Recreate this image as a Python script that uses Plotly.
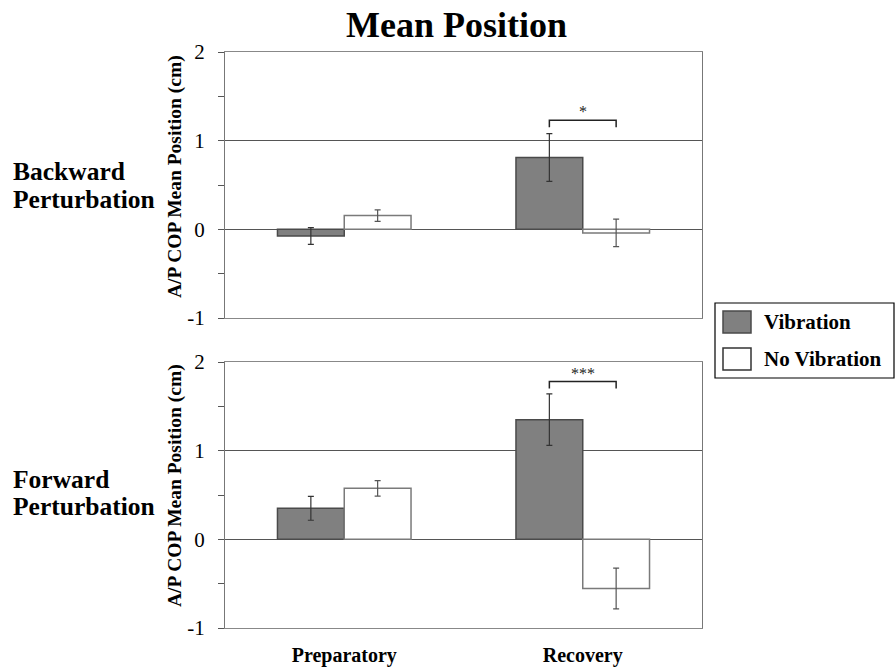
import plotly.graph_objects as go

# ---------------- data ----------------
phases = ["Preparatory", "Recovery"]
conditions = ["Vibration", "No Vibration"]
panel_labels = [["Backward", "Perturbation"], ["Forward", "Perturbation"]]

back_vib = [-0.075, 0.81]
back_vib_err = [0.095, 0.27]
back_novib = [0.155, -0.04]
back_novib_err = [0.065, 0.155]

fwd_vib = [0.35, 1.35]
fwd_vib_err = [0.135, 0.29]
fwd_novib = [0.575, -0.555]
fwd_novib_err = [0.087, 0.23]

sig_phase_index = [1, 1]
sig_labels = ["*", "***"]
bracket_y = [1.23, 1.78]

y_ticks = [-1, 0, 1, 2]
y_tick_text = ["-1", "0", "1", "2"]

# ---------------- styling ----------------
W, H = 895, 669
SERIF = "Liberation Serif, Times New Roman, serif"
VIB_FILL, VIB_LINE = "#808080", "#4a4a4a"
NOV_FILL, NOV_LINE = "#ffffff", "#7a7a7a"
BARGAP = 0.44
half = (1 - BARGAP) / 4  # offset of each bar center from category center

def px_x(p):
    return p / W

def px_y(p):
    return 1 - p / H

x_dom = [px_x(225), px_x(702)]
y_doms = [[px_y(318), px_y(52)], [px_y(628), px_y(362)]]

fig = go.Figure()

panels = [
    (back_vib, back_vib_err, back_novib, back_novib_err),
    (fwd_vib, fwd_vib_err, fwd_novib, fwd_novib_err),
]
xpos = list(range(len(phases)))

for i, (v, ve, n, ne) in enumerate(panels):
    xa = "x" if i == 0 else "x2"
    ya = "y" if i == 0 else "y2"
    fig.add_trace(go.Bar(
        x=xpos, y=v, name=conditions[0], xaxis=xa, yaxis=ya,
        marker=dict(color=VIB_FILL, line=dict(color=VIB_LINE, width=1.5)),
        error_y=dict(type="data", array=ve, color="#333333", thickness=1.2, width=3),
        showlegend=False, offsetgroup="vib",
    ))
    fig.add_trace(go.Bar(
        x=xpos, y=n, name=conditions[1], xaxis=xa, yaxis=ya,
        marker=dict(color=NOV_FILL, line=dict(color=NOV_LINE, width=1.5)),
        error_y=dict(type="data", array=ne, color="#555555", thickness=1.2, width=3),
        showlegend=False, offsetgroup="nov",
    ))
    # significance bracket
    k = sig_phase_index[i]
    b = bracket_y[i]
    fig.add_trace(go.Scatter(
        x=[k - half, k - half, k + half, k + half],
        y=[b - 0.08, b, b, b - 0.08],
        mode="lines", line=dict(color="#222222", width=1.5),
        xaxis=xa, yaxis=ya, showlegend=False, hoverinfo="skip",
    ))
    fig.add_annotation(
        x=k, y=b, xref=xa, yref=ya, text=sig_labels[i], showarrow=False,
        yanchor="bottom", yshift=-2, font=dict(family=SERIF, size=16, color="#222"),
    )

axis_common = dict(
    range=[-0.5, len(phases) - 0.5], domain=x_dom, showline=True, mirror=True,
    linecolor="#888888", linewidth=1, ticks="", showgrid=False, zeroline=False,
    tickvals=xpos, ticktext=phases, automargin=False,
)
yaxis_common = dict(
    range=[-1, 2], tickvals=y_ticks, ticktext=y_tick_text, ticks="outside", ticklen=6,
    tickcolor="#555555",
    minor=dict(tick0=-1, dtick=0.5, ticks="outside", ticklen=6, tickcolor="#555555", showgrid=False),
    showgrid=True, gridcolor="#555555", gridwidth=1,
    zeroline=True, zerolinecolor="#555555", zerolinewidth=1,
    showline=True, mirror=True, linecolor="#777777", linewidth=1,
    tickfont=dict(family=SERIF, size=21, color="black"), ticklabelstandoff=9,
    automargin=False,
)

fig.update_layout(
    width=W, height=H, autosize=False,
    margin=dict(l=0, r=0, t=0, b=0, pad=0),
    paper_bgcolor="white", plot_bgcolor="white",
    barmode="group", bargap=BARGAP, bargroupgap=0,
    showlegend=False,
    xaxis=dict(anchor="y", showticklabels=False, **axis_common),
    xaxis2=dict(anchor="y2", showticklabels=True, ticklabelstandoff=9,
                tickfont=dict(family=SERIF, size=20, color="black", weight="bold"),
                **axis_common),
    yaxis=dict(anchor="x", domain=y_doms[0], **yaxis_common),
    yaxis2=dict(anchor="x2", domain=y_doms[1], **yaxis_common),
)

# title
fig.add_annotation(
    x=px_x(456), y=px_y(25), xref="paper", yref="paper", text="<b>Mean Position</b>",
    showarrow=False, xanchor="center", yanchor="middle",
    font=dict(family=SERIF, size=36, color="black"),
)

# row labels (one annotation per line) and y-axis titles
row_line_centers = [[171, 199], [479, 506]]
ytitle_centers = [177, 486]
for i in range(2):
    for line_text, c in zip(panel_labels[i], row_line_centers[i]):
        fig.add_annotation(
            x=px_x(11), y=px_y(c), xref="paper", yref="paper", text="<b>" + line_text + "</b>",
            showarrow=False, xanchor="left", yanchor="middle", align="left",
            font=dict(family=SERIF, size=25.5, color="black"),
        )
    fig.add_annotation(
        x=px_x(175), y=px_y(ytitle_centers[i]),
        xref="paper", yref="paper", text="<b>A/P COP Mean Position (cm)</b>",
        showarrow=False, textangle=-90, xanchor="center", yanchor="middle",
        font=dict(family=SERIF, size=19.5, color="black"),
    )

# legend (drawn)
fig.add_shape(type="rect", xref="paper", yref="paper",
              x0=px_x(715), x1=px_x(894), y0=px_y(378), y1=px_y(303),
              line=dict(color="black", width=1.2), fillcolor="white")
legend_rows = [(311, 333, VIB_FILL, VIB_LINE), (348, 370, NOV_FILL, "#333333")]
for (t, bt, fill, ln), name in zip(legend_rows, conditions):
    fig.add_shape(type="rect", xref="paper", yref="paper",
                  x0=px_x(723), x1=px_x(751), y0=px_y(bt), y1=px_y(t),
                  line=dict(color=ln, width=1.5), fillcolor=fill)
    fig.add_annotation(
        x=px_x(762), y=px_y((t + bt) / 2), xref="paper", yref="paper", text="<b>" + name + "</b>",
        showarrow=False, xanchor="left", yanchor="middle",
        font=dict(family=SERIF, size=21, color="black"),
    )

fig.write_html("out.html", config={"displayModeBar": False},
               post_script="document.body.style.margin='0';")
